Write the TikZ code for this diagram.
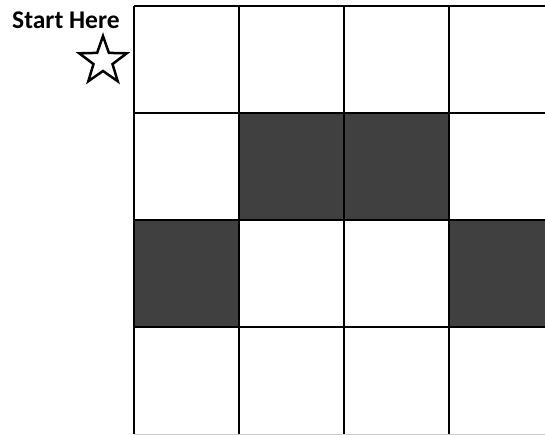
\documentclass[tikz,border=0pt]{standalone}
\usepackage{fontspec}
\setmainfont{Carlito}
\usepackage{xcolor}
\definecolor{cellColor}{RGB}{64, 64, 64}
\usetikzlibrary{shapes.geometric}

\begin{document}
\begin{tikzpicture}[x=1pt, y=-1pt]
    \useasboundingbox (0,0) rectangle (545,434);
    \clip (0,0) rectangle (545,434);
    \fill[white] (0,0) rectangle (545,434);
    % blocked cells
    \foreach \c/\r in {1/1, 2/1, 0/2, 3/2}
        \fill[cellColor] (134+105*\c, 6+107*\r) rectangle ++(105,107);
    % grid
    \foreach \i in {0,...,4}
        \draw[line width=2.5pt] (134+105*\i, 6) -- (134+105*\i, 434);
    \foreach \i in {0,...,3}
        \draw[line width=2.5pt] (134, 6+107*\i) -- (554, 6+107*\i);
    \draw[line width=1pt, gray!40] (134, 434) -- (554, 434);
    \node[font=\bfseries\fontsize{25.5}{30}\selectfont, anchor=base west, inner sep=0pt] (startLabel) at (12,28) {Start Here};
    \node[star, star points=5, star point ratio=2.5, minimum size=50pt, inner sep=0pt, draw, line width=2.5pt] (startStar) at (103,61) {};
\end{tikzpicture}
\end{document}
